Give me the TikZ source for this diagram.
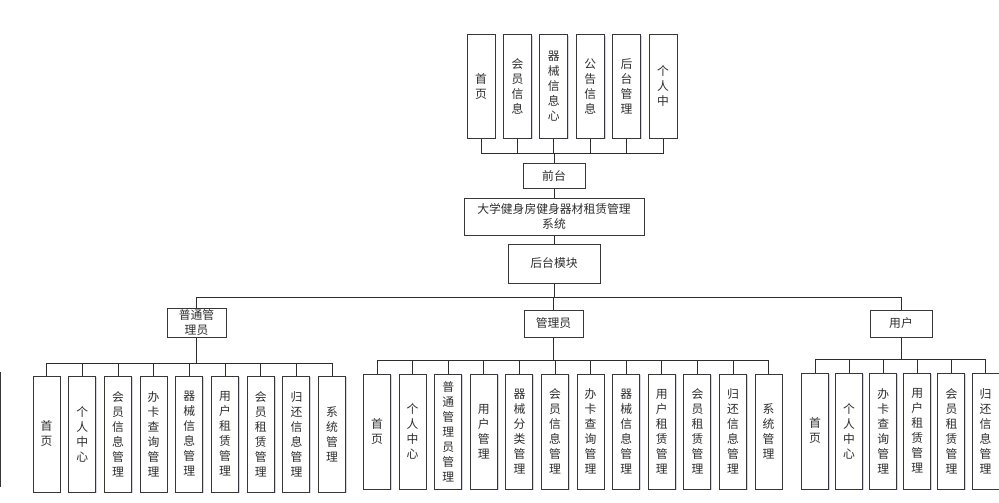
\documentclass[tikz,border=0pt]{standalone}
\usepackage{fontspec}
\newfontfamily\cjk{Noto Sans CJK SC}
\usepackage{tikz}
\usetikzlibrary{positioning, calc, shadows}
\definecolor{BoxLine}{RGB}{55,55,55}
\definecolor{LinkGray}{RGB}{45,45,45}
\definecolor{TextGray}{RGB}{45,45,45}
\definecolor{ShadowBlue}{RGB}{205,212,228}
\tikzset{
  % riquadri
  box/.style={draw=BoxLine,line width=1pt,fill=white,inner sep=0pt,
    font=\cjk\fontsize{11.8}{15}\selectfont,text=TextGray,align=center,
    drop shadow={shadow xshift=1.3pt,shadow yshift=-1.3pt,fill=ShadowBlue,opacity=0.9}},
  topbox/.style={box,minimum width=28,minimum height=103},
  leafbox/.style={box,minimum width=27,minimum height=116},
  rolebox/.style={box,minimum width=59,minimum height=27},
  % collegamenti
  link/.style={draw=LinkGray,line width=0.8pt}
}

\begin{document}
\begin{tikzpicture}[x=1pt,y=-1pt]
  \useasboundingbox (0,0) rectangle (999,503);
  % front end
  \foreach \t [count=\i] in {{首\\页},{会\\员\\信\\息},{器\\械\\信\\息\\心},{公\\告\\信\\息},{后\\台\\管\\理},{个\\人\\中}}
    \node[topbox] (t\i) at ({481+(\i-1)*36.4},86.5) {\t};
  \node[box,minimum width=62,minimum height=25] (qiantai) at (554,175.5) {前台};
  \node[box,minimum width=180,minimum height=37] (sys) at (554,216.5) {大学健身房健身器材租赁管理\\系统};
  \node[box,minimum width=92,minimum height=39] (houtai) at (554,263.5) {后台模块};
  % ruoli
  \node[rolebox,minimum height=29] (pgly) at (196.5,322.5) {普通管\\理员};
  \node[rolebox] (gly) at (553.5,323.5) {管理员};
  \node[rolebox,minimum width=62] (yh) at (901,323.5) {用户};
  % foglie
  \foreach \t [count=\i] in {{首\\页},{个\\人\\中\\心},{会\\员\\信\\息\\管\\理},{办\\卡\\查\\询\\管\\理},{器\\械\\信\\息\\管\\理},{用\\户\\租\\赁\\管\\理},{会\\员\\租\\赁\\管\\理},{归\\还\\信\\息\\管\\理},{系\\统\\管\\理}}
    \node[leafbox] (a\i) at ({46.5+(\i-1)*35.7},434) {\t};
  \foreach \t [count=\i] in {{首\\页},{个\\人\\中\\心},{普\\通\\管\\理\\员\\管\\理},{用\\户\\管\\理},{器\\械\\分\\类\\管\\理},{会\\员\\信\\息\\管\\理},{办\\卡\\查\\询\\管\\理},{器\\械\\信\\息\\管\\理},{用\\户\\租\\赁\\管\\理},{会\\员\\租\\赁\\管\\理},{归\\还\\信\\息\\管\\理},{系\\统\\管\\理}}
    \node[leafbox,minimum height=115] (b\i) at ({377+(\i-1)*35.6},431.5) {\t};
  \foreach \t [count=\i] in {{首\\页},{个\\人\\中\\心},{办\\卡\\查\\询\\管\\理},{用\\户\\租\\赁\\管\\理},{会\\员\\租\\赁\\管\\理},{归\\还\\信\\息\\管\\理}}
    \node[leafbox] (c\i) at ({815+(\i-1)*34.1},431) {\t};
  % bordo tagliato a sinistra
  \draw[draw=BoxLine,line width=1pt] (0.8,372) -- (0.8,487);
  % linee dei bus
  \coordinate (tbus) at (0,153);
  \coordinate (rbus) at (0,297);
  \coordinate (abus) at (0,363);
  \coordinate (bbus) at (0,360);
  \coordinate (cbus) at (0,359);
  \foreach \i in {1,...,6}
    \draw[link] (qiantai.north) -- (qiantai.north |- tbus) -| (t\i.south);
  \draw[link] (qiantai) -- (sys);
  \draw[link] (sys) -- (houtai);
  \foreach \r in {pgly,gly,yh}
    \draw[link] (houtai.south) -- (houtai.south |- rbus) -| (\r.north);
  \foreach \i in {1,...,9}
    \draw[link] (pgly.south) -- (pgly.south |- abus) -| (a\i.north);
  \foreach \i in {1,...,12}
    \draw[link] (gly.south) -- (gly.south |- bbus) -| (b\i.north);
  \foreach \i in {1,...,6}
    \draw[link] (yh.south) -- (yh.south |- cbus) -| (c\i.north);
\end{tikzpicture}
\end{document}
